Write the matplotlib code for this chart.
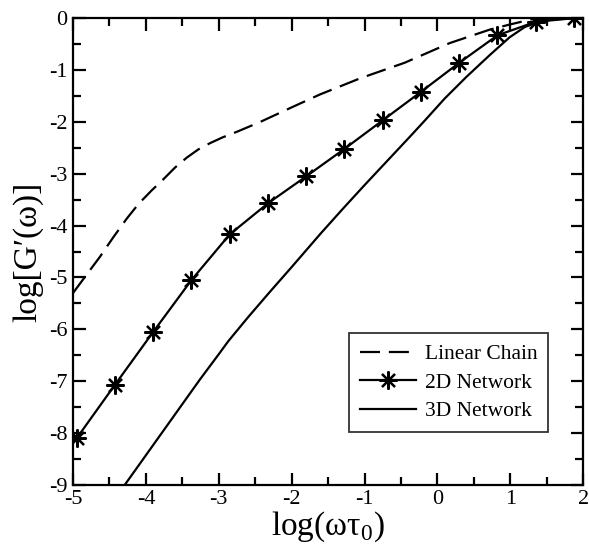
import numpy as np
import matplotlib
matplotlib.use('Agg')
import matplotlib.pyplot as plt
from matplotlib.ticker import MultipleLocator

plt.rcParams['font.family'] = ['Liberation Serif', 'DejaVu Serif']
plt.rcParams['mathtext.fontset'] = 'custom'
plt.rcParams['mathtext.rm'] = 'Liberation Serif'
plt.rcParams['axes.unicode_minus'] = False

# Linear chain (dashed)
x_chain = [-5.0, -4.8, -4.63, -4.45, -4.26, -4.1, -3.92, -3.77, -3.6, -3.44,
           -3.28, -3.12, -2.95, -2.75, -2.43, -2.0, -1.61, -1.06, -0.45, 0.17,
           0.72, 1.0, 1.3, 2.0]
y_chain = [-5.3, -4.92, -4.6, -4.23, -3.86, -3.58, -3.32, -3.12, -2.88, -2.69,
           -2.53, -2.41, -2.3, -2.19, -2.0, -1.72, -1.47, -1.16, -0.86, -0.48,
           -0.22, -0.12, -0.02, 0.0]

# 2D network (with markers)
x_2d = [-4.95, -4.425, -3.9, -3.375, -2.85, -2.325, -1.8, -1.275, -0.75,
        -0.225, 0.3, 0.825, 1.35, 1.875]
y_2d = [-8.1, -7.07, -6.05, -5.05, -4.17, -3.57, -3.05, -2.52, -1.97,
        -1.42, -0.86, -0.33, -0.07, 0.0]

# 3D network (solid)
x_3d = [-4.35, -4.29, -3.26, -3.0, -2.87, -2.6, -2.3, -2.0, -1.6, -1.3, -1.0,
        -0.7, -0.38, -0.17, 0.1, 0.4, 0.72, 0.99, 1.2, 1.4, 1.6, 2.0]
y_3d = [-9.12, -9.0, -6.97, -6.48, -6.23, -5.77, -5.28, -4.8, -4.15, -3.68,
        -3.22, -2.77, -2.29, -1.97, -1.55, -1.13, -0.71, -0.37, -0.17, -0.07,
        -0.02, 0.0]

fig = plt.figure(figsize=(5.89, 5.51), dpi=100)
ax = fig.add_axes([0.124, 0.120, 0.866, 0.847])

ax.plot(x_chain, y_chain, color='black', lw=1.6, ls=(0, (9, 4)),
        label='Linear Chain')
ax.plot(x_2d, y_2d, color='black', lw=1.6, marker=(8, 2, 0), ms=13,
        mew=1.6, label='2D Network')
ax.plot(x_3d, y_3d, color='black', lw=1.6, label='3D Network')

ax.set_xlim(-5, 2)
ax.set_ylim(-9, 0)
ax.xaxis.set_major_locator(MultipleLocator(1))
ax.xaxis.set_minor_locator(MultipleLocator(0.5))
ax.yaxis.set_major_locator(MultipleLocator(1))
ax.yaxis.set_minor_locator(MultipleLocator(0.5))
ax.tick_params(which='both', direction='in', top=True, right=True,
               width=1.6, labelsize=16)
ax.tick_params(which='major', length=9, pad=4)
ax.tick_params(which='minor', length=5.5)
for sp in ax.spines.values():
    sp.set_linewidth(1.6)

ax.set_xlabel('log(ωτ$_0$)', fontsize=24, labelpad=0)
ax.set_ylabel('log[G′(ω)]', fontsize=24, labelpad=4)

leg = ax.legend(loc='upper left', bbox_to_anchor=(0.542, 0.325),
                fontsize=15.5, frameon=True, fancybox=False,
                edgecolor='black', borderpad=0.5, labelspacing=0.4,
                handlelength=2.6, handletextpad=0.4, borderaxespad=0)
leg.get_frame().set_linewidth(1.3)

fig.savefig('out.png', dpi=100)
